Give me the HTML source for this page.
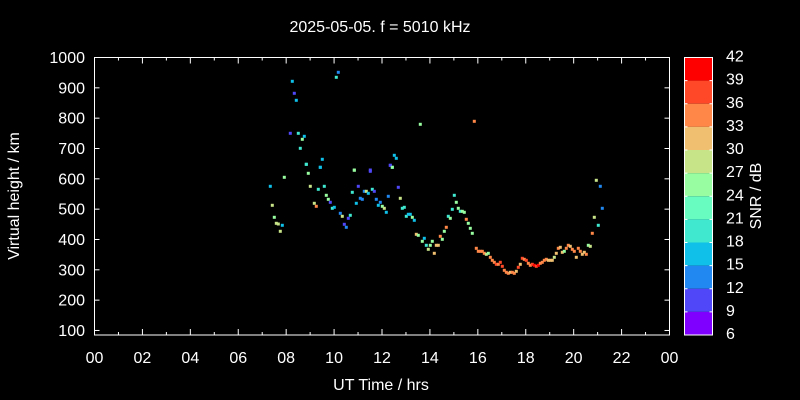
<!DOCTYPE html>
<html><head><meta charset="utf-8"><style>
html,body{margin:0;padding:0;background:#000;}
svg{display:block;font-family:"Liberation Sans",sans-serif;}
</style></head><body>
<svg id="s" width="800" height="400" xmlns="http://www.w3.org/2000/svg">
<rect width="800" height="400" fill="#000"/>
<text x="380" y="32" fill="#fff" font-size="16" text-anchor="middle">2025-05-05. f = 5010 kHz</text>
<rect x="94.5" y="57.5" width="575" height="277.5" fill="none" stroke="#fff" stroke-width="1"/>
<g id="ax" stroke="#fff" stroke-width="1"></g>
<g id="lab" fill="#fff" font-size="16"></g>
<text x="381" y="390" fill="#fff" font-size="16" text-anchor="middle">UT Time / hrs</text>
<text transform="translate(19,196) rotate(-90)" fill="#fff" font-size="16" text-anchor="middle">Virtual height / km</text>
<g id="cb"></g>
<text transform="translate(761,196) rotate(-90)" fill="#fff" font-size="16" text-anchor="middle">SNR / dB</text>
<g id="pts"></g>
</svg>
<script>
var NS="http://www.w3.org/2000/svg";
function el(p,t,a,txt){var e=document.createElementNS(NS,t);for(var k in a)e.setAttribute(k,a[k]);if(txt!==undefined)e.textContent=txt;document.getElementById(p).appendChild(e);}
var L=94.5,R=669.5,T=57.5,B=335;
for(var h=0;h<=24;h++){var x=L+h*(R-L)/24;var len=(h%2==0)?6:3;
 el("ax","line",{x1:x,y1:B,x2:x,y2:B-len});el("ax","line",{x1:x,y1:T,x2:x,y2:T+len});
 if(h%2==0){var s=(h%24<10?"0":"")+(h%24);el("lab","text",{x:x,y:363,"text-anchor":"middle"},s);}}
for(var v=100;v<=1000;v+=100){var y=57.5+(1000-v)*0.3033;
 el("ax","line",{x1:L,y1:y,x2:L+5,y2:y});el("ax","line",{x1:R,y1:y,x2:R-5,y2:y});
 el("lab","text",{x:85,y:y+5.5,"text-anchor":"end"},""+v);}
var cols=["#ff0000","#ff4828","#ff8848","#f0c070","#c8e488","#98fca0","#68fcc0","#40e8d0","#10c0e8","#2088f0","#5048f8","#8000ff"];
var cT=57.5,cB=335,cw=(cB-cT)/12;
for(var i=0;i<12;i++){el("cb","rect",{x:684.5,y:cT+i*cw,width:28,height:cw,fill:cols[i]});}
el("cb","rect",{x:684.5,y:cT,width:28,height:cB-cT,fill:"none",stroke:"#fff"});
for(var i=0;i<=12;i++){var y=cT+i*cw;el("cb","line",{x1:684.5,y1:y,x2:687.5,y2:y,stroke:"#fff"});el("cb","line",{x1:712.5,y1:y,x2:709.5,y2:y,stroke:"#fff"});
 el("cb","text",{x:726,y:y+4,fill:"#fff","font-size":"16"},""+(42-3*i));}
var C={c:"#10c0e8",t:"#40e8d0",g:"#68fcc0",l:"#98fca0",y:"#c8e488",n:"#f0c070",o:"#ff8848",r:"#ff4828",R:"#ff0000",b:"#2088f0",i:"#5048f8"};
var z=[[58,76,"c"],[64,133,"y"],[70,169,"l"],[76,187,"y"],[82,189,"y"],[94,193,"c"],[88,211,"y"],[100,49,"l"],
[166,10,"t"],[172,37,"l"],[178,76,"y"],[208,19,"c"],[202,85,"t"],[220,76,"t"],[190,127,"y"],[196,136,"o"],[226,103,"l"],[232,115,"l"],[238,124,"i"],[244,142,"t"],[250,139,"c"],[268,157,"b"],[274,166,"y"],[280,190,"i"],[286,199,"b"],[292,172,"i"],[298,163,"t"],[304,94,"t"],[310,28,"l"],[316,127,"c"],[322,76,"i"],[328,112,"b"],[334,115,"b"],[340,91,"b"],[346,91,"y"],[352,97,"c"],[358,31,"i"],[364,85,"t"],[370,91,"i"],[376,115,"b"],[382,133,"c"],[388,124,"b"],[394,136,"l"],[400,142,"y"],[406,154,"c"],[412,106,"b"],[418,13,"i"],[424,19,"t"],[442,79,"i"],[448,112,"y"],[454,142,"t"],[460,139,"t"],[466,166,"t"],[472,160,"c"],[478,160,"c"],[484,169,"l"],[490,178,"c"],[496,220,"n"],[502,223,"l"],[514,241,"l"],[520,232,"c"],[526,253,"t"],[532,265,"y"],[538,253,"l"],[544,241,"l"],[550,277,"n"],[556,253,"n"],[562,253,"n"],[568,226,"o"],[574,235,"l"],[580,211,"l"],[586,199,"o"],[592,166,"t"],[598,172,"l"],[604,145,"t"],[610,103,"t"],[616,124,"l"],[622,142,"l"],[628,151,"t"],[634,151,"l"],[640,154,"l"],[646,175,"o"],[652,187,"l"],[658,202,"l"],[664,217,"l"],[676,262,"o"],[682,271,"o"],[688,271,"o"],[694,271,"o"],[700,277,"o"],[706,280,"y"],[712,277,"l"],[718,289,"o"],[724,298,"o"],[730,304,"o"],[736,310,"r"],[742,310,"o"],[748,304,"r"],[754,316,"r"],[760,328,"o"],[766,334,"o"],[772,337,"o"],[778,334,"n"],[784,334,"o"],[790,337,"o"],[796,331,"n"],[802,319,"r"],[808,310,"n"],[814,292,"r"],[820,295,"o"],[826,298,"r"],[832,307,"o"],[838,313,"o"],[844,310,"r"],[850,313,"R"],[856,316,"r"],[862,313,"R"],[868,307,"o"],[874,304,"o"],[880,298,"o"],[886,295,"o"],[892,298,"n"],[898,298,"n"],[904,298,"n"],[910,289,"y"],[916,277,"n"],[922,262,"o"],[928,259,"n"],[934,274,"n"],[940,271,"l"],[946,262,"o"],[952,253,"o"],[958,256,"n"],[964,265,"o"],[970,271,"o"],[976,289,"n"],[982,262,"o"],[988,271,"o"],[994,280,"n"],[1000,274,"n"],[1006,280,"o"],[1012,253,"l"],[1018,256,"y"],[1024,217,"o"],[1030,169,"y"],[1036,58,"y"],[1042,193,"t"],[1048,76,"b"],[1054,142,"b"]];
var P=[];
z.forEach(function(p){P.push([250+p[0]/3,160+p[1]/3,p[2]]);});
var z2=[[94,61,"c"],[100,97,"i"],[106,118,"c"],[232,34,"b"],[226,49,"t"],[478,190,"l"],[640,181,"o"],[88,217,"i"],[112,217,"t"],[130,226,"c"],[124,235,"l"],[118,262,"t"],[184,295,"c"],[136,310,"t"],[178,319,"c"],[400,283,"c"],[406,292,"c"],[388,313,"i"],[394,319,"l"],[280,327,"l"],[328,327,"i"]];
z2.forEach(function(p){P.push([260+p[0]/3,60+p[1]/3,p[2]]);});
P.forEach(function(p){el("pts","rect",{x:(p[0]-0.5).toFixed(1),y:(p[1]-0.5).toFixed(1),width:3,height:3,fill:C[p[2]]});});
</script>
</body></html>
